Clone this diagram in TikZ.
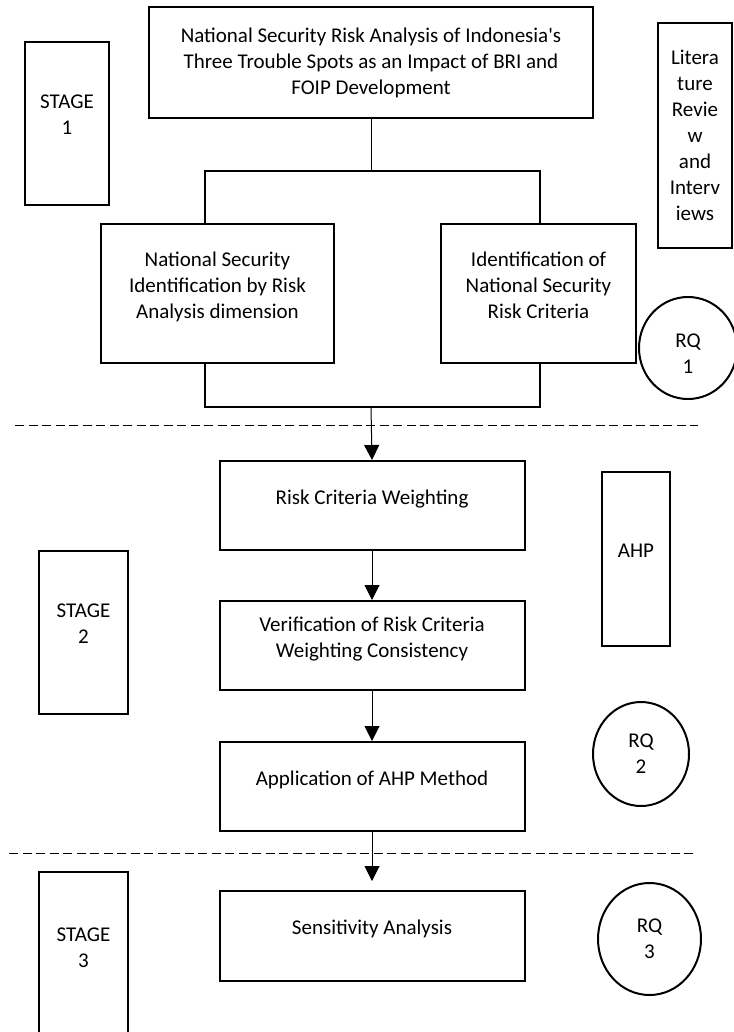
\documentclass[tikz,border=0pt]{standalone}
\usepackage{fontspec}
\setmainfont{Carlito}
\usetikzlibrary{arrows.meta,shapes.geometric}
\newcommand{\lowpad}{\rule[-17pt]{0pt}{17pt}}
\newcommand{\toppad}{\rule{0pt}{25pt}}

\begin{document}
\begin{tikzpicture}[x=1pt,y=-1pt,
		stepbox/.style={draw,line width=2pt,align=center,inner sep=0pt,font=\fontsize{21}{26}\selectfont},
		lifted/.style={stepbox,execute at end node=\lowpad},
		rq/.style={draw,ellipse,line width=2pt,align=center,inner sep=0pt,font=\fontsize{21}{26}\selectfont},
		link/.style={line width=1pt},
		bracket/.style={line width=2pt},
		flow/.style={line width=1pt,-{Triangle[width=15pt,length=15pt]}},
		divider/.style={line width=1pt,dash pattern=on 9pt off 4.5pt}]
		\useasboundingbox (0,0) rectangle (733,1032);
		% stage 1
		\node[stepbox,minimum width=444pt,minimum height=111pt] (title) at (371,63) {National Security Risk Analysis of Indonesia\textquotesingle s\\Three Trouble Spots as an Impact of BRI and\\FOIP Development};
		\node[lifted,minimum width=84pt,minimum height=163pt] (stage1) at (67,123.5) {STAGE\\1};
		\node[stepbox,minimum width=74pt,minimum height=225pt] (lit) at (695,135.5) {Litera\\ture\\Revie\\w\\and\\Interv\\iews};
		\node[lifted,minimum width=233pt,minimum height=139pt] (identify) at (217.5,293.5) {National Security\\Identification by Risk\\Analysis dimension};
		\node[lifted,minimum width=195pt,minimum height=139pt] (criteria) at (538.5,293.5) {Identification of\\National Security\\Risk Criteria};
		\node[rq,minimum width=98pt,minimum height=102pt] (rq1) at (688,348) {\toppad RQ\\1};
		\coordinate (splitL) at (205,171);
		\coordinate (splitR) at (540,171);
		\coordinate (joinL) at (205,407);
		\coordinate (joinR) at (540,407);
		\draw[link] (title.south) -- (title.south |- splitL);
		\draw[bracket] (splitL |- identify.north) -- (splitL) -- (splitR) -- (splitR |- criteria.north);
		\draw[bracket] (joinL |- identify.south) -- (joinL) -- (joinR) -- (joinR |- criteria.south);
		\coordinate (cut1L) at (15,425);
		\coordinate (cut1R) at (698,425);
		\draw[divider] (cut1L) -- (cut1R);
		% stage 2
		\node[lifted,minimum width=305pt,minimum height=89pt] (weight) at (372,505.5) {Risk Criteria Weighting};
		\node[lifted,minimum width=68pt,minimum height=174pt] (ahp) at (636,559) {AHP};
		\node[lifted,minimum width=89pt,minimum height=163pt] (stage2) at (83.5,632.5) {STAGE\\2};
		\node[lifted,minimum width=305pt,minimum height=89pt] (verif) at (372,645.5) {Verification of Risk Criteria\\Weighting Consistency};
		\node[lifted,minimum width=305pt,minimum height=89pt] (apply) at (372,786.5) {Application of AHP Method};
		\node[rq,minimum width=96pt,minimum height=104pt] (rq2) at (641,754) {RQ\\2};
		\draw[flow] (title.south |- joinL) -- (weight.north);
		\draw[flow] (weight.south) -- (verif.north);
		\draw[flow] (verif.south) -- (apply.north);
		\coordinate (cut2L) at (9,853);
		\coordinate (cut2R) at (696,853);
		\draw[divider] (cut2L) -- (cut2R);
		% stage 3
		\node[lifted,minimum width=305pt,minimum height=90pt] (sens) at (372,936) {Sensitivity Analysis};
		\node[lifted,minimum width=89pt,minimum height=168pt] (stage3) at (83.5,956) {STAGE\\3};
		\node[rq,minimum width=103pt,minimum height=112pt] (rq3) at (649.5,939) {RQ\\3};
		\draw[flow,shorten >=9pt] (apply.south) -- (sens.north);
\end{tikzpicture}
\end{document}
